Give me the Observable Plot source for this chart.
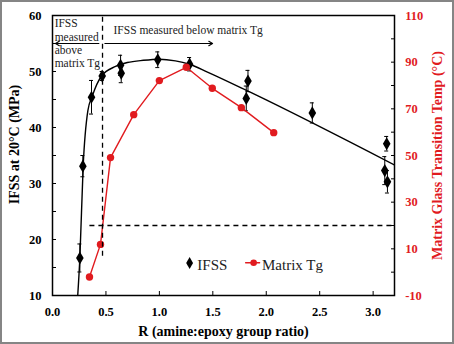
<!DOCTYPE html>
<html>
<head>
<meta charset="utf-8">
<script src="https://cdn.jsdelivr.net/npm/d3@7"></script>
<script src="https://cdn.jsdelivr.net/npm/@observablehq/plot@0.6"></script>
<style>
  body { margin: 0; background: #fff; }
  #chart { position: relative; width: 454px; height: 344px; }
  #chart::after { content: ""; position: absolute; inset: 0; border: 2px solid #858585; pointer-events: none; }
  #chart svg { display: block; }
</style>
</head>
<body>
<div id="chart"></div>
<script>
// IFSS at 20°C (MPa) against amine:epoxy ratio, with error half-widths
const ratioIFSS = [0.256, 0.284, 0.365, 0.465, 0.637, 0.643, 0.985, 1.283, 1.829, 1.813, 2.431, 3.127, 3.109, 3.134];
const ifss      = [16.7, 33.1, 45.4, 49.2, 51.1, 49.7, 52.1, 51.3, 48.3, 45.2, 42.6, 37.1, 32.3, 30.3];
const ifssErr   = [2.5, 1.9, 3.0, 0.8, 1.8, 1.7, 1.4, 1.2, 1.9, 2.2, 1.8, 1.3, 2.5, 2.0];

// trend curve drawn through the IFSS data
const fitRatio = [0.236, 0.256, 0.287, 0.331, 0.372, 0.459, 0.59, 0.7, 0.85, 1.0, 1.15, 1.28, 1.45, 1.85, 3.2];
const fitIFSS  = [10, 16.7, 33.1, 43.0, 45.6, 49.2, 50.9, 51.6, 52.0, 52.2, 51.9, 51.3, 49.9, 46.3, 33.3];

// matrix glass transition temperature (°C)
const ratioTg = [0.346, 0.449, 0.543, 0.76, 1.0, 1.252, 1.495, 1.767, 2.07];
const tg      = [-2.1, 11.9, 49.1, 67.5, 82.1, 87.8, 78.8, 70.5, 59.8];

// test temperature and the ratio where it meets the matrix Tg
const roomTemp = 20;
const crossRatio = 0.468;

// axes
const xDomain = [0, 3.2];
const ifssDomain = [10, 60];
const tgDomain = [-10, 110];
const xTicks = [0, 0.5, 1.0, 1.5, 2.0, 2.5, 3.0];
const ifssTicks = [10, 20, 30, 40, 50, 60];
const ifssMinor = [15, 25, 35, 45, 55];
const tgTicks = [-10, 10, 30, 50, 70, 90, 110];
const tgMinor = [0, 20, 40, 60, 80, 100];

// Tg values are placed on the IFSS scale so both share one y axis
const toIFSS = t => ifssDomain[0] + (t - tgDomain[0]) * (ifssDomain[1] - ifssDomain[0]) / (tgDomain[1] - tgDomain[0]);
const fromIFSS = v => tgDomain[0] + (v - ifssDomain[0]) * (tgDomain[1] - tgDomain[0]) / (ifssDomain[1] - ifssDomain[0]);

const red = "#e11b1f";
const serif = "Liberation Serif, Times New Roman, serif";

const ifssData = ratioIFSS.map((x, i) => ({x, y: ifss[i], e: ifssErr[i]}));
const fitData = fitRatio.map((x, i) => ({x, y: fitIFSS[i]}));
const tgData = ratioTg.map((x, i) => ({x, y: toIFSS(tg[i])}));

// annotation and legend placement (data units)
const arrowY = 55;
const legendY = 15.8;

const chart = Plot.plot({
  width: 454,
  height: 344,
  marginLeft: 52,
  marginRight: 60,
  marginTop: 15,
  marginBottom: 49,
  style: {fontFamily: serif, background: "#fff", color: "#000"},
  x: {domain: xDomain},
  y: {domain: ifssDomain},
  marks: [
    // fitted trend
    Plot.line(fitData, {x: "x", y: "y", curve: "monotone-x", stroke: "#000", strokeWidth: 1.4, clip: true}),
    // error bars and caps
    Plot.ruleX(ifssData, {x: "x", y1: d => d.y - d.e, y2: d => d.y + d.e, stroke: "#000", strokeWidth: 1}),
    Plot.ruleY(ifssData, {y: d => d.y + d.e, x1: "x", x2: "x", insetLeft: -2, insetRight: -2, stroke: "#000", strokeWidth: 1}),
    Plot.ruleY(ifssData, {y: d => d.y - d.e, x1: "x", x2: "x", insetLeft: -2, insetRight: -2, stroke: "#000", strokeWidth: 1}),
    Plot.dot(ifssData, {x: "x", y: "y", symbol: "diamond", r: 4, fill: "#000", stroke: "none"}),
    // matrix Tg
    Plot.line(tgData, {x: "x", y: "y", stroke: red, strokeWidth: 1.4}),
    Plot.dot(tgData, {x: "x", y: "y", r: 3.7, fill: red, stroke: "none"}),
    // dashed guides: 20°C test temperature and the Tg crossover
    Plot.ruleY([toIFSS(roomTemp)], {x1: 0.35, x2: xDomain[1], stroke: "#000", strokeWidth: 1.3, strokeDasharray: "5,4"}),
    Plot.ruleX([crossRatio], {y1: 17.0, y2: ifssDomain[1], stroke: "#000", strokeWidth: 1.3, strokeDasharray: "5,4"}),
    // region annotations
    Plot.text(["IFSS\nmeasured\nabove\nmatrix Tg"], {x: 0.02, y: 55.1, textAnchor: "start", lineAnchor: "middle", lineHeight: 1.17, fontSize: 11.5, fill: "#222"}),
    Plot.text(["IFSS measured below matrix Tg"], {x: 0.571, y: 57.4, textAnchor: "start", fontSize: 11.5, fill: "#222"}),
    Plot.arrow([{x1: 0.434, x2: 0.028}, {x1: 0.49, x2: 1.498}], {x1: "x1", x2: "x2", y1: arrowY, y2: arrowY, stroke: "#000", strokeWidth: 1.1, headLength: 6}),
    // legend
    Plot.dot([{x: 1.283, y: legendY}], {x: "x", y: "y", symbol: "diamond", r: 3.6, fill: "#000"}),
    Plot.text(["IFSS"], {x: 1.355, y: legendY - 0.35, textAnchor: "start", fontSize: 15, fill: "#222"}),
    Plot.line([{x: 1.807, y: legendY + 0.05}, {x: 1.938, y: legendY + 0.05}], {x: "x", y: "y", stroke: red, strokeWidth: 1.4}),
    Plot.dot([{x: 1.882, y: legendY + 0.05}], {x: "x", y: "y", r: 3.3, fill: red}),
    Plot.text(["Matrix Tg"], {x: 1.96, y: legendY - 0.35, textAnchor: "start", fontSize: 15, fill: "#222"}),
    // plot frame
    Plot.frame({stroke: "#000", strokeWidth: 1.5}),
    // axes with inward ticks
    Plot.axisX({ticks: xTicks, tickFormat: d3.format(".1f"), tickSize: -4, tickPadding: 16, fontSize: 12.5, fontWeight: "bold", label: null}),
    Plot.axisY({ticks: ifssTicks, tickSize: -4, tickPadding: 15, fontSize: 12.5, fontWeight: "bold", label: null}),
    Plot.axisY({ticks: ifssMinor, tickSize: -4, tickFormat: () => "", label: null}),
    Plot.axisY({anchor: "right", ticks: tgTicks.map(toIFSS), tickFormat: v => String(Math.round(fromIFSS(v))), tickSize: -4, tickPadding: 14.7, fontSize: 12.5, fontWeight: "bold", color: red, stroke: "#000", label: null}),
    Plot.axisY({anchor: "right", ticks: tgMinor.map(toIFSS), tickSize: -4, tickFormat: () => "", label: null}),
    // axis titles
    Plot.text(["IFSS at 20°C (MPa)"], {frameAnchor: "left", textAnchor: "middle", lineAnchor: "middle", rotate: -90, dx: -38, dy: -11, fontSize: 14, fontWeight: "bold", fill: "#000"}),
    Plot.text(["Matrix Glass Transition Temp (°C)"], {frameAnchor: "right", textAnchor: "middle", lineAnchor: "middle", rotate: -90, dx: 43, dy: 0, fontSize: 14, fontWeight: "bold", fill: red}),
    Plot.text(["R (amine:epoxy group ratio)"], {frameAnchor: "bottom", textAnchor: "middle", lineAnchor: "middle", dy: 36, fontSize: 14, fontWeight: "bold", fill: "#000"})
  ]
});

document.getElementById("chart").append(chart);
</script>
</body>
</html>
